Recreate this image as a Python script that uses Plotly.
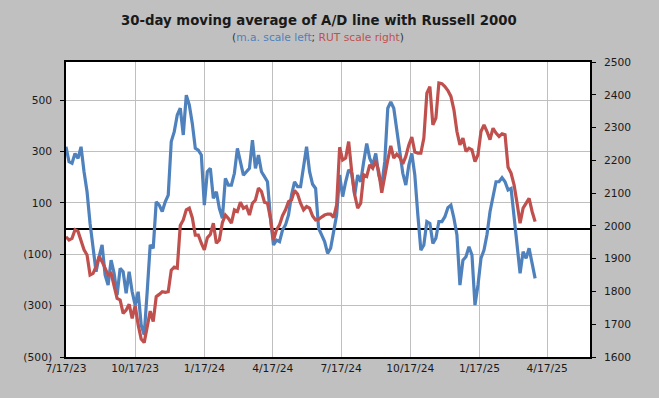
import pandas as pd
import plotly.graph_objects as go

dates = pd.date_range("2023-07-17", periods=157, freq="4D")

ad_ma = [318, 260, 254, 292, 273, 318, 221, 143, 20, -84,
         -168, -110, -64, -181, -220, -123, -174, -259, -155, -168,
         -252, -168, -246, -298, -246, -375, -414, -246, -64, -77,
         104, 91, 66, 104, 130, 338, 377, 442, 468, 364,
         519, 481, 409, 312, 305, 286, 91, 221, 234, 117,
         143, 78, 40, 195, 169, 169, 215, 312, 260, 208,
         221, 234, 344, 234, 286, 221, 202, 182, 40, -64,
         -45, -51, -6, 14, 53, 130, 182, 163, 163, 247,
         318, 221, 172, 156, 1, -25, -51, -97, -77, -12,
         53, 208, 124, 182, 228, 215, 130, 208, 182, 260,
         331, 273, 247, 292, 208, 169, 260, 468, 493, 468,
         377, 299, 215, 169, 247, 292, 208, 53, -84, -64,
         27, 20, -58, -38, 27, 27, 46, 81, 91, 40,
         -25, -220, -123, -110, -71, -103, -298, -220, -116, -84,
         -23, 65, 117, 182, 182, 198, 182, 150, 156, 40,
         -84, -174, -90, -116, -77, -142, -194]

rut = [1967, 1957, 1962, 1988, 1983, 1952, 1927, 1911, 1850, 1855,
       1876, 1906, 1891, 1871, 1850, 1855, 1818, 1779, 1774, 1733,
       1743, 1761, 1718, 1757, 1698, 1655, 1644, 1687, 1740, 1708,
       1784, 1791, 1799, 1797, 1799, 1865, 1874, 1871, 2001, 2018,
       2049, 2054, 2025, 1972, 1972, 1947, 1927, 1964, 1974, 2008,
       1947, 1957, 2010, 2033, 2023, 2008, 2049, 2044, 2072, 2054,
       2059, 2033, 2069, 2079, 2115, 2105, 2072, 2069, 2023, 1957,
       1988, 2003, 2031, 2049, 2074, 2079, 2108, 2097, 2069, 2049,
       2059, 2054, 2030, 2018, 2020, 2027, 2033, 2036, 2036, 2026,
       2064, 2240, 2201, 2207, 2257, 2166, 2095, 2054, 2069, 2156,
       2151, 2186, 2176, 2198, 2166, 2101, 2156, 2201, 2244, 2207,
       2219, 2209, 2189, 2212, 2247, 2271, 2225, 2222, 2222, 2268,
       2405, 2425, 2308, 2329, 2436, 2434, 2425, 2413, 2395, 2354,
       2288, 2247, 2268, 2227, 2237, 2232, 2196, 2217, 2288, 2308,
       2288, 2263, 2298, 2283, 2273, 2281, 2278, 2179, 2161, 2125,
       2069, 2008, 2054, 2069, 2084, 2044, 2013]

x_tick_vals = ["2023-07-17", "2023-10-17", "2024-01-17", "2024-04-17",
               "2024-07-17", "2024-10-17", "2025-01-17", "2025-04-17"]
x_tick_text = ["7/17/23", "10/17/23", "1/17/24", "4/17/24",
               "7/17/24", "10/17/24", "1/17/25", "4/17/25"]
y_tick_vals = [-500, -300, -100, 100, 300, 500]
y_tick_text = ["(500)", "(300)", "(100)", "100", "300", "500"]

BLUE = "#4F81BD"
RED = "#C0504D"
FONT = "DejaVu Sans"

fig = go.Figure()
fig.add_trace(go.Scatter(x=dates, y=ad_ma, mode="lines", yaxis="y",
                         line=dict(color=BLUE, width=3.2), showlegend=False))
fig.add_trace(go.Scatter(x=dates, y=rut, mode="lines", yaxis="y2",
                         line=dict(color=RED, width=3.2), showlegend=False))

fig.update_layout(
    width=659, height=398,
    margin=dict(l=66, r=69, t=62, b=41),
    paper_bgcolor="#C0C0C0", plot_bgcolor="#FFFFFF",
    font=dict(family=FONT, size=10.7, color="#1A1A1A"),
    title=dict(text="<b>30-day moving average of A/D line with Russell 2000</b>",
               x=318 / 659, xanchor="center", xref="paper", y=1 - 20 / 398, yanchor="middle",
               font=dict(family=FONT, size=13.3, color="#1A1A1A")),
    xaxis=dict(type="date", range=["2023-07-17", "2025-06-13"],
               tickvals=x_tick_vals, ticktext=x_tick_text, ticks="",
               showgrid=True, gridcolor="#BFBFBF", gridwidth=1,
               showline=True, linecolor="#000000", linewidth=1.5, mirror=True,
               tickfont=dict(family=FONT, size=10.7, color="#1A1A1A")),
    yaxis=dict(range=[-500, 648], tickvals=y_tick_vals, ticktext=y_tick_text,
               ticks="outside", ticklen=4, tickcolor="#000000",
               showgrid=True, gridcolor="#BFBFBF", gridwidth=1,
               zeroline=True, zerolinecolor="#000000", zerolinewidth=1.5,
               showline=True, linecolor="#000000", linewidth=1.5, mirror=True,
               ticklabelstandoff=6,
               tickfont=dict(family=FONT, size=10.7, color="#1A1A1A")),
    yaxis2=dict(range=[1600, 2500], dtick=100, tick0=1600, overlaying="y", side="right",
                ticks="outside", ticklen=4, tickcolor="#000000",
                showgrid=False, zeroline=False,
                showline=True, linecolor="#000000", linewidth=1.5,
                ticklabelstandoff=6,
                tickfont=dict(family=FONT, size=10.7, color="#1A1A1A")),
)

fig.add_annotation(
    text=("<span style='color:#333333'>(</span>"
          f"<span style='color:{BLUE}'>m.a. scale left</span>"
          "<span style='color:#333333'>; </span>"
          f"<span style='color:{RED}'>RUT scale right</span>"
          "<span style='color:#333333'>)</span>"),
    xref="paper", yref="paper", x=(318 - 66) / (590 - 66), y=1 + (62 - 37) / 295,
    xanchor="center", yanchor="middle", showarrow=False,
    font=dict(family=FONT, size=10.7))

fig.write_html("out.html", config={"displayModeBar": False},
               post_script="document.body.style.margin='0';document.body.style.background='#C0C0C0';")
